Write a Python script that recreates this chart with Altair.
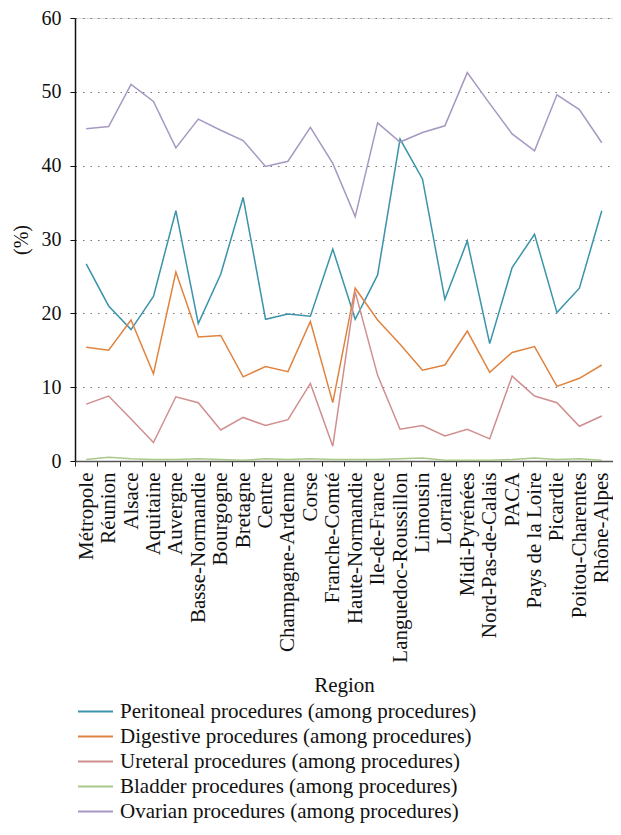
import altair as alt
import pandas as pd

regions = ["Métropole", "Réunion", "Alsace", "Aquitaine", "Auvergne", "Basse-Normandie",
           "Bourgogne", "Bretagne", "Centre", "Champagne-Ardenne", "Corse", "Franche-Comté",
           "Haute-Normandie", "Ile-de-France", "Languedoc-Roussillon", "Limousin", "Lorraine",
           "Midi-Pyrénées", "Nord-Pas-de-Calais", "PACA", "Pays de la Loire", "Picardie",
           "Poitou-Charentes", "Rhône-Alpes"]

peritoneal = [26.7, 21.0, 17.8, 22.3, 33.9, 18.6, 25.3, 35.7, 19.2, 19.9, 19.6, 28.7,
              19.2, 25.2, 43.6, 38.2, 21.9, 29.8, 15.9, 26.2, 30.7, 20.1, 23.4, 33.9]
digestive = [15.4, 15.0, 19.1, 11.8, 25.6, 16.8, 17.0, 11.4, 12.8, 12.1, 18.9, 7.9,
             23.4, 19.1, 15.8, 12.3, 13.0, 17.6, 12.0, 14.7, 15.5, 10.1, 11.2, 13.0]
ureteral = [7.7, 8.8, 5.7, 2.5, 8.7, 7.9, 4.2, 5.9, 4.8, 5.6, 10.5, 2.0,
            22.9, 11.6, 4.3, 4.8, 3.4, 4.3, 3.0, 11.5, 8.8, 7.9, 4.7, 6.1]
bladder = [0.2, 0.5, 0.3, 0.2, 0.2, 0.3, 0.2, 0.1, 0.3, 0.2, 0.3, 0.2,
           0.2, 0.2, 0.3, 0.4, 0.1, 0.1, 0.1, 0.2, 0.4, 0.2, 0.3, 0.1]
ovarian = [45.0, 45.3, 51.0, 48.7, 42.4, 46.3, 44.8, 43.4, 39.9, 40.6, 45.2, 40.3,
           33.1, 45.8, 43.2, 44.5, 45.4, 52.6, 48.4, 44.3, 42.0, 49.6, 47.6, 43.1]

series_names = ["Peritoneal procedures (among procedures)",
                "Digestive procedures (among procedures)",
                "Ureteral procedures (among procedures)",
                "Bladder procedures (among procedures)",
                "Ovarian procedures (among procedures)"]
colors = ["#3a93ab", "#e0833f", "#d08e8e", "#a9c98c", "#a698c0"]

rows = []
for name, vals in zip(series_names, [peritoneal, digestive, ureteral, bladder, ovarian]):
    for i, (r, v) in enumerate(zip(regions, vals)):
        rows.append({"Region": r, "series": name, "value": v, "idx": i})
df = pd.DataFrame(rows)

FONT = "Liberation Serif"

chart = alt.Chart(df).mark_line(strokeWidth=1.5).encode(
    x=alt.X("Region:N", sort=regions, bandPosition=0.5,
            scale=alt.Scale(type="band", paddingInner=0, paddingOuter=0),
            axis=alt.Axis(title="Region", labelAngle=270, tickBand="extent", grid=False,
                          labelFont=FONT, labelFontSize=21, labelColor="#111",
                          labelPadding=6, titleFont=FONT, titleFontSize=21,
                          titleFontWeight="normal", titleColor="#111", titlePadding=13,
                          domainColor="#555", domainWidth=1.5, tickColor="#222",
                          tickSize=5, tickWidth=1, labelOverlap=False, labelLimit=400)),
    y=alt.Y("value:Q", scale=alt.Scale(domain=[0, 60], nice=False),
            axis=alt.Axis(title="(%)", values=[0, 10, 20, 30, 40, 50, 60], grid=True,
                          gridDash=[1.5, 6], gridColor="#777", gridWidth=1.2,
                          labelFont=FONT, labelFontSize=20, labelColor="#111",
                          labelPadding=9, titleFont=FONT, titleFontSize=20,
                          titleFontWeight="normal", titleColor="#111", titlePadding=10,
                          domainColor="#111", domainWidth=1.5, tickColor="#111",
                          tickSize=5, tickWidth=1)),
    color=alt.Color("series:N", sort=series_names,
                    scale=alt.Scale(domain=series_names, range=colors),
                    legend=alt.Legend(title=None, orient="none", legendX=10, legendY=683,
                                      direction="vertical", symbolType="M-2,0H2",
                                      symbolSize=306, symbolStrokeWidth=2,
                                      labelFont=FONT, labelFontSize=21, labelColor="#111",
                                      labelOffset=14, rowPadding=3, labelLimit=600)),
    order=alt.Order("idx:Q"),
).properties(
    width=538, height=443,
    autosize=alt.AutoSizeParams(type="none"),
    padding={"left": 67, "top": 10, "right": 0, "bottom": 366},
).configure_view(stroke=None).configure(background="white")

chart.save("out.html", embed_options={"renderer": "svg", "actions": False})
